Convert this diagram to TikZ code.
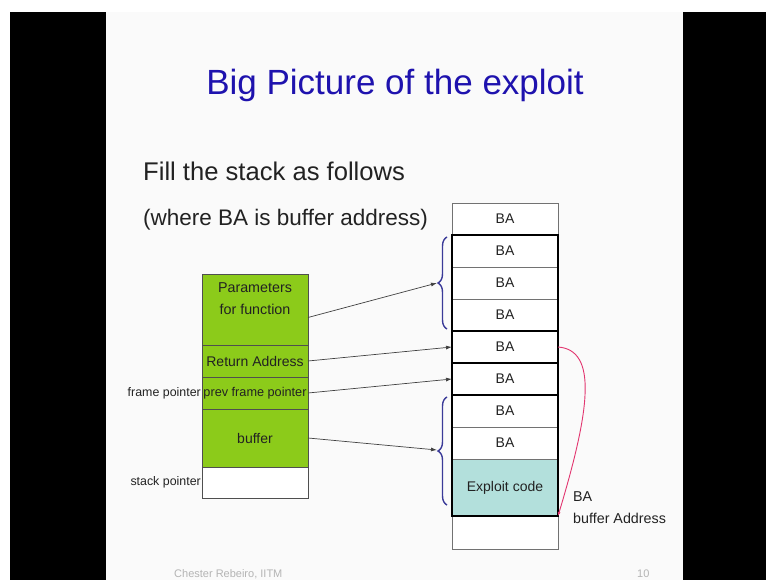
\documentclass[tikz,border=0pt]{standalone}
\usepackage{fontspec}
\setmainfont{Liberation Sans}
\usetikzlibrary{arrows.meta,positioning,calc,decorations.pathreplacing}
\definecolor{Slide}{HTML}{FAFAFA}
\definecolor{Lime}{HTML}{8CCB1A}
\definecolor{CellLine}{HTML}{4F4F4F}
\definecolor{Sea}{HTML}{B3E0DC}
\definecolor{Brace}{HTML}{3A3A98}
\definecolor{Link}{HTML}{E2356F}
\definecolor{Heading}{HTML}{1E12AE}
\definecolor{Footer}{HTML}{B4B4B4}
\definecolor{Ink}{HTML}{222222}
\newcommand{\fsz}[2]{\fontsize{#1}{#2}\selectfont}
\tikzset{
  cell/.style={draw=CellLine,fill=Lime,line width=.8pt,minimum width=106pt,inner sep=0pt,outer sep=0pt,align=center,text=Ink},
  slot/.style={draw=CellLine!80,fill=white,line width=.6pt,minimum width=106pt,minimum height=32pt,inner sep=0pt,outer sep=0pt,font=\fsz{14}{16},text=Ink},
  block/.style={draw=black,line width=1.8pt},
  sidenote/.style={font=\fsz{12.4}{14},inner sep=1pt,text=Ink},
  ptr/.style={-{Latex[length=6pt,width=4pt]},draw=black!75,line width=.7pt},
  backlink/.style={-{Latex[length=4pt,width=3pt]},draw=Link,line width=.9pt},
  curly/.style={draw=Brace,line width=1.4pt,decorate,decoration={brace,amplitude=9pt}}
}
\begin{document}
\begin{tikzpicture}[x=1pt,y=-1pt]
  \useasboundingbox (0,0) rectangle (766,580);
  \fill[white] (0,0) rectangle (766,580);
  \fill[black] (10,12) rectangle (106,580);
  \fill[black] (683,12) rectangle (766,580);
  \fill[Slide] (106,12) rectangle (683,580);
  \node[font=\fsz{35}{40},text=Heading,anchor=base,inner sep=0pt] (title) at (395,95) {Big Picture of the exploit};
  \node[font=\fsz{25.6}{30},text=Ink,anchor=base west,inner sep=0pt] (fill) at (143,181) {Fill the stack as follows};
  \node[font=\fsz{22.5}{27},text=Ink,anchor=base west,inner sep=0pt] (where) at (143,226) {(where BA is buffer address)};

  \node[cell,minimum height=71pt,anchor=north west,font=\fsz{14.3}{22},text depth=22pt] (par) at (202,274) {Parameters\\for function};
  \node[cell,minimum height=32pt,below=0pt of par,font=\fsz{14}{16}] (ret) {Return Address};
  \node[cell,minimum height=32pt,below=0pt of ret,font=\fsz{12.7}{14}] (prev) {prev frame pointer};
  \node[cell,minimum height=58pt,below=0pt of prev,font=\fsz{14}{16}] (buf) {buffer};
  \node[cell,fill=white,minimum height=31pt,below=0pt of buf] (sp) {};
  \node[sidenote,left=0pt of prev] (fpl) {frame pointer};
  \node[sidenote,left=0pt of sp] (spl) {stack pointer};

  \node[slot,anchor=north west] (s1) at (452,203) {BA};
  \node[slot,below=0pt of s1] (s2) {BA};
  \node[slot,below=0pt of s2] (s3) {BA};
  \node[slot,below=0pt of s3] (s4) {BA};
  \node[slot,below=0pt of s4] (s5) {BA};
  \node[slot,below=0pt of s5] (s6) {BA};
  \node[slot,below=0pt of s6] (s7) {BA};
  \node[slot,below=0pt of s7] (s8) {BA};
  \node[slot,fill=Sea,minimum height=57pt,below=0pt of s8] (code) {Exploit code};
  \node[slot,minimum height=33pt,below=0pt of code] (s0) {};
  \draw[block] (s2.north west) rectangle (s4.south east);
  \draw[block] (s5.north west) rectangle (s5.south east);
  \draw[block] (s6.north west) rectangle (s6.south east);
  \draw[block] (s7.north west) rectangle (code.south east);

  \draw[curly] ([xshift=-5pt,yshift=2pt]s4.south west) -- ([xshift=-5pt,yshift=-2pt]s2.north west);
  \draw[curly] ([xshift=-5pt,yshift=11pt]code.south west) -- ([xshift=-5pt,yshift=-2pt]s7.north west);
  \coordinate (tipA) at ($(s2.north west)!.5!(s4.south west)+(-15,0)$);
  \coordinate (tipB) at ($([yshift=11pt]code.south west)!.5!(s7.north west)+(-15,0)$);

  \draw[ptr] ([yshift=-8pt]par.east) -- (tipA);
  \draw[ptr] (ret.east) -- (s5.west);
  \draw[ptr] (prev.east) -- (s6.west);
  \draw[ptr] (buf.east) -- (tipB);
  \draw[backlink] (s5.east) .. controls ([xshift=40pt,yshift=-3pt]s5.east) and ([xshift=32pt,yshift=106pt]code.south east) .. (code.south east);
  \node[font=\fsz{14.3}{22},text=Ink,align=left,anchor=west,inner sep=0pt] (bal) at ([xshift=15pt,yshift=8pt]code.south east) {BA\\buffer Address};

  \node[font=\fsz{11}{13},text=Footer,anchor=base west,inner sep=0pt] (who) at (174,577) {Chester Rebeiro, IITM};
  \node[font=\fsz{11}{13},text=Footer,anchor=base west,inner sep=0pt] (page) at (637,577) {10};
\end{tikzpicture}
\end{document}
